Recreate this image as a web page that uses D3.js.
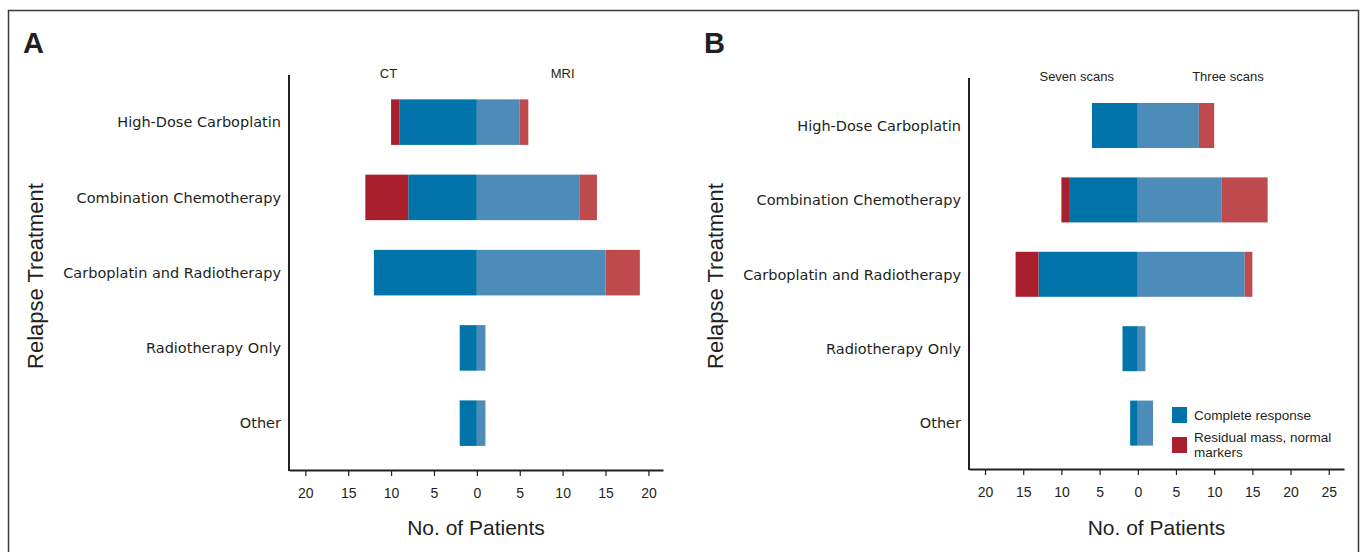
<!DOCTYPE html>
<html>
<head>
<meta charset="utf-8">
<script src="https://cdn.jsdelivr.net/npm/d3@7"></script>
<style>
  body { margin: 0; background: #fff; }
  svg text { fill: #231f20; }
  .tick text { font-family: "Liberation Sans", Arial, sans-serif; font-size: 14px; }
</style>
</head>
<body>
<div id="chart"></div>
<script>
// relapse treatment groups (top to bottom)
var categories = ["High-Dose Carboplatin", "Combination Chemotherapy", "Carboplatin and Radiotherapy", "Radiotherapy Only", "Other"]

// panel A: CT (left) vs MRI (right)
var ctComplete  = [9, 8, 12, 2, 2]
var ctResidual  = [1, 5, 0, 0, 0]
var mriComplete = [5, 12, 15, 1, 1]
var mriResidual = [1, 2, 4, 0, 0]

// panel B: seven scans (left) vs three scans (right)
var sevenComplete = [6, 9, 13, 2, 1]
var sevenResidual = [0, 1, 3, 0, 0]
var threeComplete = [8, 11, 14, 1, 2]
var threeResidual = [2, 6, 1, 0, 0]

var ticksA = [-20, -15, -10, -5, 0, 5, 10, 15, 20]
var ticksB = [-20, -15, -10, -5, 0, 5, 10, 15, 20, 25]

var legendLabels = ["Complete response", "Residual mass, normal markers"]

var col = {
  leftCR: "#0074a8",
  rightCR: "#4d8cb8",
  leftRes: "#aa1f2e",
  rightRes: "#be4a4e"
}

var svg = d3.select("#chart").append("svg")
  .attr("width", 1366).attr("height", 552)

// outer frame
svg.append("rect")
  .attr("x", 8.5).attr("y", 10.5)
  .attr("width", 1350).attr("height", 600)
  .attr("fill", "none").attr("stroke", "#3a3a3a").attr("stroke-width", 1.5)

function drawPanel(p) {
  var g = svg.append("g")
  var x = d3.scaleLinear().domain(p.xDomain).range(p.xRange)
  var y = d3.scaleBand().domain(categories).range(p.yRange)
    .paddingInner(0.395).paddingOuter(0.1975)

  // stacked segments: left side negative, right side positive
  var segs = []
  categories.forEach(function(c, i) {
    segs.push({cat: c, x0: -p.leftCR[i], x1: 0, fill: col.leftCR})
    segs.push({cat: c, x0: -p.leftCR[i] - p.leftRes[i], x1: -p.leftCR[i], fill: col.leftRes})
    segs.push({cat: c, x0: 0, x1: p.rightCR[i], fill: col.rightCR})
    segs.push({cat: c, x0: p.rightCR[i], x1: p.rightCR[i] + p.rightRes[i], fill: col.rightRes})
  })
  g.selectAll(".seg")
    .data(segs.filter(d => d.x1 > d.x0))
    .enter()
    .append("rect")
    .attr("class", "seg")
    .attr("x", d => x(d.x0))
    .attr("width", d => x(d.x1) - x(d.x0))
    .attr("y", d => y(d.cat))
    .attr("height", y.bandwidth())
    .attr("fill", d => d.fill)

  // x axis
  var ax = g.append("g")
    .attr("transform", "translate(0," + p.axisY + ")")
    .call(d3.axisBottom(x).tickValues(p.ticks).tickSize(6).tickSizeOuter(0)
      .tickPadding(12).tickFormat(d => Math.abs(d)))
  ax.select(".domain").attr("stroke", "#231f20").attr("stroke-width", 2)
  ax.selectAll(".tick line").attr("stroke", "#231f20").attr("stroke-width", 1.2)

  // y axis line
  g.append("line")
    .attr("x1", p.xRange[0]).attr("x2", p.xRange[0])
    .attr("y1", p.axisTop).attr("y2", p.axisY + 1)
    .attr("stroke", "#231f20").attr("stroke-width", 2)

  // category labels
  g.selectAll(".cat")
    .data(categories)
    .enter()
    .append("text")
    .attr("class", "cat")
    .attr("x", p.xRange[0] - 8)
    .attr("y", d => y(d) + y.bandwidth() / 2)
    .attr("dy", "0.36em")
    .attr("text-anchor", "end")
    .style("font-family", "'DejaVu Sans', sans-serif")
    .style("font-size", "14.5px")
    .text(d => d)

  // side headers
  p.sides.forEach(function(s) {
    g.append("text")
      .attr("x", x(s.at)).attr("y", p.sideY)
      .attr("text-anchor", "middle")
      .style("font-family", "'Liberation Sans', Arial, sans-serif")
      .style("font-size", "13px")
      .text(s.label)
  })

  // axis titles
  g.append("text")
    .attr("x", (p.xRange[0] + p.xRange[1]) / 2).attr("y", 535)
    .attr("text-anchor", "middle")
    .style("font-family", "'Liberation Sans', Arial, sans-serif")
    .style("font-size", "21px")
    .text("No. of Patients")
  g.append("text")
    .attr("transform", "translate(" + p.titleX + ",276) rotate(-90)")
    .attr("text-anchor", "middle")
    .style("font-family", "'Liberation Sans', Arial, sans-serif")
    .style("font-size", "22px")
    .text("Relapse Treatment")

  // panel letter
  g.append("text")
    .attr("x", p.letterX).attr("y", 53)
    .style("font-family", "'Liberation Sans', Arial, sans-serif")
    .style("font-size", "29px").style("font-weight", "bold")
    .text(p.letter)
  return {x: x, y: y}
}

drawPanel({
  letter: "A", letterX: 23,
  xDomain: [-21.9, 21.7], xRange: [289, 663],
  yRange: [84.5, 460.8], axisY: 470, axisTop: 75,
  ticks: ticksA, titleX: 43,
  leftCR: ctComplete, leftRes: ctResidual, rightCR: mriComplete, rightRes: mriResidual,
  sides: [{label: "CT", at: -10.3}, {label: "MRI", at: 10}], sideY: 78
})

drawPanel({
  letter: "B", letterX: 704,
  xDomain: [-22.1, 27.0], xRange: [969, 1344],
  yRange: [88.3, 460.3], axisY: 469, axisTop: 78,
  ticks: ticksB, titleX: 723,
  leftCR: sevenComplete, leftRes: sevenResidual, rightCR: threeComplete, rightRes: threeResidual,
  sides: [{label: "Seven scans", at: -8}, {label: "Three scans", at: 11.8}], sideY: 81
})

// legend (panel B)
var leg = svg.append("g").attr("transform", "translate(1172,407)")
leg.selectAll("rect")
  .data([col.leftCR, col.leftRes])
  .enter()
  .append("rect")
  .attr("x", 0).attr("y", (d, i) => i * 30)
  .attr("width", 15).attr("height", 16)
  .attr("fill", d => d)
var legText = leg.append("g")
  .style("font-family", "'Liberation Sans', Arial, sans-serif")
  .style("font-size", "13.5px")
legText.append("text").attr("x", 22).attr("y", 13).text(legendLabels[0])
var t2 = legText.append("text").attr("x", 22).attr("y", 34.7)
t2.append("tspan").attr("x", 22).text("Residual mass, normal")
t2.append("tspan").attr("x", 22).attr("dy", 15).text("markers")
</script>
</body>
</html>
